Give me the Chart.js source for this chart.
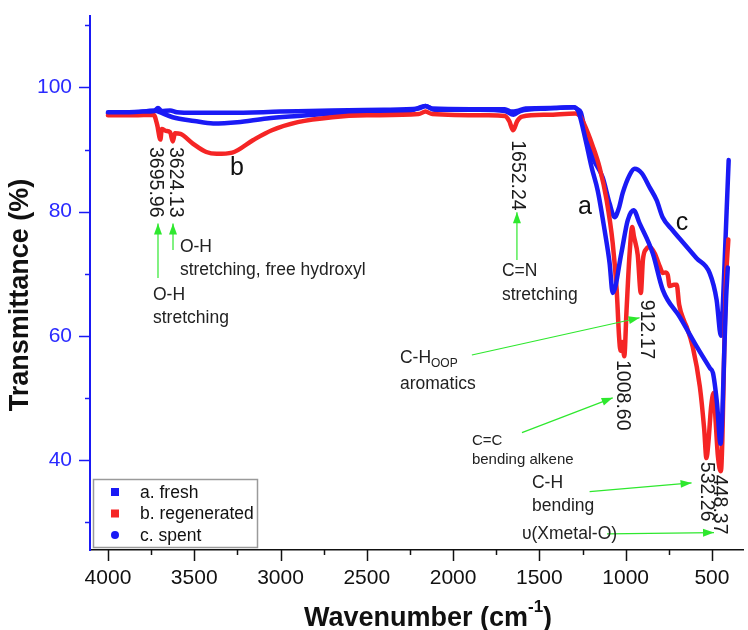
<!DOCTYPE html>
<html>
<head>
<meta charset="utf-8">
<script src="https://cdn.jsdelivr.net/npm/chart.js@4.4.1/dist/chart.umd.min.js"></script>
<style>
  html, body { margin: 0; padding: 0; background: #fff; }
</style>
</head>
<body>
<canvas id="ftir" width="748" height="630"></canvas>
<script>
/* FTIR spectra: wavenumber (cm-1) vs transmittance (%) */

const freshWn = [4000, 3900, 3800, 3730, 3710, 3690, 3640, 3600, 3500, 3300, 3000, 2700, 2400, 2200, 2160, 2120, 1900, 1700, 1660, 1630, 1580, 1400, 1300, 1285, 1272, 1232, 1197, 1162, 1122, 1093, 1075, 1025, 988, 954, 919, 843, 785, 686, 587, 512, 494, 471, 450, 440, 428, 418, 408];
const freshT  = [96.0, 96.0, 96.1, 96.2, 96.7, 96.2, 96.3, 96.0, 95.9, 95.9, 96.1, 96.3, 96.4, 96.6, 97.0, 96.6, 96.5, 96.5, 96.1, 96.2, 96.6, 96.7, 96.8, 96.6, 96.0, 91.5, 87.1, 83.4, 77.0, 71.7, 66.9, 73.3, 78.6, 80.2, 78.1, 73.3, 67.4, 63.0, 58.2, 54.8, 54.0, 49.2, 42.6, 47.0, 58.0, 66.0, 71.0];

const regenWn = [4000, 3850, 3735, 3715, 3696, 3688, 3665, 3640, 3624, 3612, 3580, 3510, 3430, 3370, 3280, 3160, 3050, 2900, 2700, 2500, 2200, 2160, 2120, 1800, 1700, 1675, 1652, 1628, 1600, 1450, 1290, 1265, 1244, 1190, 1151, 1110, 1075, 1052, 1038, 1030, 1020, 1008, 995, 977, 962, 952, 930, 912, 900, 880, 862, 832, 800, 785, 770, 756, 745, 720, 704, 690, 660, 646, 611, 570, 545, 532, 520, 505, 490, 478, 465, 448, 440, 430, 420, 405];
const regenT  = [95.5, 95.5, 95.6, 94.0, 91.6, 93.3, 93.0, 92.8, 91.3, 92.6, 92.5, 91.0, 89.6, 89.3, 89.5, 91.5, 93.1, 94.4, 95.2, 95.5, 95.7, 96.1, 95.7, 95.5, 95.4, 94.6, 93.1, 94.6, 95.3, 95.6, 95.8, 95.4, 94.3, 90.5, 87.1, 81.8, 74.9, 67.4, 59.8, 57.6, 59.0, 56.7, 64.0, 73.3, 77.5, 76.0, 73.0, 66.9, 72.2, 74.0, 74.3, 73.3, 71.0, 70.1, 70.2, 69.8, 68.0, 68.2, 68.2, 65.0, 62.3, 61.4, 58.2, 51.8, 45.0, 40.3, 43.0, 48.5, 50.8, 46.0, 40.5, 38.2, 43.0, 56.0, 68.0, 75.5];

const spentWn = [4000, 3850, 3730, 3700, 3625, 3500, 3390, 3250, 3080, 2900, 2700, 2470, 2250, 2160, 2110, 1850, 1700, 1650, 1610, 1450, 1300, 1280, 1260, 1236, 1191, 1133, 1093, 1064, 1040, 1017, 977, 948, 907, 861, 820, 786, 728, 670, 589, 513, 473, 448, 436, 426, 415, 403];
const spentT  = [95.8, 95.9, 96.3, 96.0, 95.2, 94.6, 94.2, 94.4, 95.0, 95.4, 95.8, 96.0, 96.2, 97.0, 96.4, 96.4, 96.2, 95.6, 96.2, 96.6, 96.8, 96.5, 96.0, 93.1, 88.7, 85.5, 81.3, 79.1, 80.5, 83.0, 85.9, 86.9, 86.2, 83.9, 81.8, 79.1, 77.0, 75.1, 72.5, 70.1, 65.8, 60.0, 65.5, 72.2, 80.0, 88.3];

const seriesNames = ['a. fresh', 'b. regenerated', 'c. spent'];
const xTicks = [500, 1000, 1500, 2000, 2500, 3000, 3500, 4000];
const yTicks = [40, 60, 80, 100];

// annotations, placed in data coordinates (wavenumber, %T)
const peakLabels = [
  ['3695.96', 3728, 90.4], ['3624.13', 3612, 90.4], ['1652.24', 1630, 91.5],
  ['912.17', 882, 65.8], ['1008.60', 1021, 56.1], ['532.26', 535, 39.7], ['448.37', 459, 37.6]
];
const notes = [
  [['O-H', 'stretching, free hydroxyl'], 3583, 74.3, 17.5, 23],
  [['O-H', 'stretching'], 3739, 66.6, 17.5, 23],
  [['C=N', 'stretching'], 1717, 70.4, 17.5, 24],
  [['C-H_OOP', 'aromatics'], 2308, 56.4, 17.5, 26],
  [['C=C', 'bending alkene'], 1891, 43.1, 15, 19],
  [['C-H', 'bending'], 1543, 36.3, 17.5, 23],
  [['\u03C5(Xmetal-O)'], 1601, 28.0, 17.5, 0]
];
const curveTags = [['b', 3252, 87.0], ['a', 1236, 80.7], ['c', 674, 78.1]];
const arrows = [
  [3710, 69.3, 3710, 78.1], [3623, 73.8, 3623, 78.1], [1630, 72.2, 1630, 79.9],
  [1891, 56.9, 919, 62.9], [1601, 44.4, 1075, 50.0], [1209, 34.9, 618, 36.3], [1108, 28.1, 488, 28.3]
];

const FONT = '"Liberation Sans", Arial, sans-serif';
const BLUE = '#1a1af5';
const RED = '#f52525';
const GREEN = '#2ee82e';

function pts(wn, t) {
  return wn.map((w, i) => ({ x: w, y: t[i] }));
}

function arrowHead(ctx, x0, y0, x1, y1) {
  const a = Math.atan2(y1 - y0, x1 - x0);
  const len = 11, half = 4;
  ctx.beginPath();
  ctx.moveTo(x1, y1);
  ctx.lineTo(x1 - len * Math.cos(a) + half * Math.sin(a), y1 - len * Math.sin(a) - half * Math.cos(a));
  ctx.lineTo(x1 - len * Math.cos(a) - half * Math.sin(a), y1 - len * Math.sin(a) + half * Math.cos(a));
  ctx.closePath();
  ctx.fill();
}

/* ticks, titles, legend and annotations */
const decor = {
  id: 'decor',
  afterDraw(chart) {
    const { ctx, chartArea: area, scales: { x, y } } = chart;
    ctx.save();

    // x ticks (major every 500, minor every 250)
    ctx.strokeStyle = '#111';
    ctx.lineWidth = 1.5;
    for (let v = 500; v <= 4000; v += 250) {
      const px = Math.round(x.getPixelForValue(v)) + 0.5;
      const len = v % 500 === 0 ? 11 : 5;
      ctx.beginPath();
      ctx.moveTo(px, area.bottom);
      ctx.lineTo(px, area.bottom + len);
      ctx.stroke();
    }
    // y ticks
    ctx.strokeStyle = BLUE;
    for (let v = 30; v <= 110; v += 10) {
      const py = Math.round(y.getPixelForValue(v)) + 0.5;
      const len = yTicks.includes(v) ? 11 : 5;
      ctx.beginPath();
      ctx.moveTo(area.left, py);
      ctx.lineTo(area.left - len, py);
      ctx.stroke();
    }

    // axis titles
    ctx.fillStyle = '#111';
    ctx.font = 'bold 27px ' + FONT;
    ctx.textBaseline = 'middle';
    ctx.textAlign = 'center';
    ctx.save();
    ctx.translate(21, 295);
    ctx.rotate(-Math.PI / 2);
    ctx.fillText('Transmittance (%)', 0, 0);
    ctx.restore();

    const t1 = 'Wavenumber (cm', sup = '-1', t2 = ')';
    ctx.font = 'bold 27px ' + FONT;
    const w1 = ctx.measureText(t1).width, w2 = ctx.measureText(t2).width;
    ctx.font = 'bold 17px ' + FONT;
    const ws = ctx.measureText(sup).width;
    let sx = 428 - (w1 + ws + w2) / 2;
    ctx.textAlign = 'left';
    ctx.textBaseline = 'alphabetic';
    ctx.font = 'bold 27px ' + FONT;
    ctx.fillText(t1, sx, 626);
    ctx.font = 'bold 17px ' + FONT;
    ctx.fillText(sup, sx + w1, 612);
    ctx.font = 'bold 27px ' + FONT;
    ctx.fillText(t2, sx + w1 + ws, 626);

    // arrows
    ctx.strokeStyle = GREEN;
    ctx.fillStyle = GREEN;
    ctx.lineWidth = 1.2;
    arrows.forEach(([wa, ta, wb, tb]) => {
      const x0 = x.getPixelForValue(wa), y0 = y.getPixelForValue(ta);
      const x1 = x.getPixelForValue(wb), y1 = y.getPixelForValue(tb);
      ctx.beginPath();
      ctx.moveTo(x0, y0);
      ctx.lineTo(x1, y1);
      ctx.stroke();
      arrowHead(ctx, x0, y0, x1, y1);
    });

    // rotated peak positions
    ctx.fillStyle = '#1a1a1a';
    ctx.font = '19.5px ' + FONT;
    ctx.textAlign = 'left';
    ctx.textBaseline = 'middle';
    peakLabels.forEach(([txt, w, t]) => {
      ctx.save();
      ctx.translate(x.getPixelForValue(w), y.getPixelForValue(t));
      ctx.rotate(Math.PI / 2);
      ctx.fillText(txt, 0, 0);
      ctx.restore();
    });

    // band assignments
    ctx.fillStyle = '#222';
    notes.forEach(([lines, w, t, size, gap]) => {
      const nx = x.getPixelForValue(w);
      let ny = y.getPixelForValue(t);
      lines.forEach(line => {
        ctx.font = size + 'px ' + FONT;
        if (line.includes('_')) {
          const [main, sub] = line.split('_');
          ctx.fillText(main, nx, ny);
          const mw = ctx.measureText(main).width;
          ctx.font = '12px ' + FONT;
          ctx.fillText(sub, nx + mw, ny + 6);
        } else {
          ctx.fillText(line, nx, ny);
        }
        ny += gap;
      });
    });

    // curve tags
    ctx.fillStyle = '#111';
    ctx.font = '25px ' + FONT;
    ctx.textAlign = 'center';
    curveTags.forEach(([txt, w, t]) => {
      ctx.fillText(txt, x.getPixelForValue(w), y.getPixelForValue(t));
    });

    // legend
    const lx = 93, ly = 479, lw = 164, lh = 68;
    ctx.fillStyle = '#fff';
    ctx.fillRect(lx, ly, lw, lh);
    ctx.strokeStyle = '#9a9a9a';
    ctx.lineWidth = 1.5;
    ctx.strokeRect(lx + 0.5, ly + 0.5, lw, lh);
    ctx.font = '17.5px ' + FONT;
    ctx.textAlign = 'left';
    seriesNames.forEach((name, i) => {
      const ey = ly + 13 + i * 21.5;
      const ds = chart.data.datasets[i];
      ctx.fillStyle = ds.borderColor;
      if (ds.pointStyle === 'circle') {
        ctx.beginPath();
        ctx.arc(115, ey, 4, 0, Math.PI * 2);
        ctx.fill();
      } else {
        ctx.fillRect(111, ey - 4, 8, 8);
      }
      ctx.fillStyle = '#111';
      ctx.fillText(name, 140, ey + 1);
    });

    ctx.restore();
  }
};

new Chart(document.getElementById('ftir'), {
  type: 'line',
  data: {
    datasets: [
      { label: seriesNames[0], data: pts(freshWn, freshT), borderColor: BLUE, pointStyle: 'rect' },
      { label: seriesNames[1], data: pts(regenWn, regenT), borderColor: RED, pointStyle: 'rect' },
      { label: seriesNames[2], data: pts(spentWn, spentT), borderColor: BLUE, pointStyle: 'circle' }
    ]
  },
  options: {
    responsive: false,
    animation: false,
    devicePixelRatio: 1,
    parsing: false,
    layout: { padding: { top: 16, right: 5, left: 0, bottom: 0 } },
    elements: {
      point: { radius: 0 },
      line: { borderWidth: 4.5, cubicInterpolationMode: 'monotone', borderJoinStyle: 'round', borderCapStyle: 'round', fill: false }
    },
    plugins: { legend: { display: false }, tooltip: { enabled: false } },
    scales: {
      x: {
        type: 'linear',
        reverse: true,
        min: 320,
        max: 4104,
        afterFit(s) { s.height = 80; s.paddingLeft = 0; s.paddingRight = 0; },
        afterBuildTicks(s) { s.ticks = xTicks.map(v => ({ value: v })); },
        ticks: {
          color: '#111',
          font: { size: 21, family: FONT },
          padding: 16,
          maxRotation: 0,
          autoSkip: false,
          callback: v => String(v)
        },
        grid: { display: true, drawOnChartArea: false, drawTicks: false },
        border: { display: true, color: '#111', width: 1.5 }
      },
      y: {
        min: 25.5,
        max: 111.5,
        afterFit(s) { s.width = 90; s.paddingTop = 0; s.paddingBottom = 0; },
        afterBuildTicks(s) { s.ticks = yTicks.map(v => ({ value: v })); },
        ticks: {
          color: '#2a2aff',
          font: { size: 21, family: FONT },
          padding: 18,
          callback: v => String(v)
        },
        grid: { display: true, drawOnChartArea: false, drawTicks: false },
        border: { display: true, color: BLUE, width: 2 }
      }
    }
  },
  plugins: [decor]
});
</script>
</body>
</html>
